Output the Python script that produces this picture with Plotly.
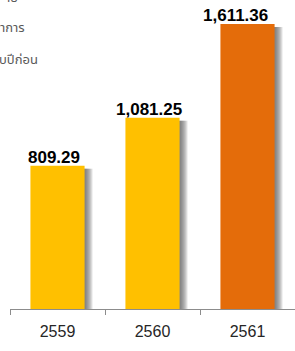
import plotly.graph_objects as go

years = ["2559", "2560", "2561"]
values = [809.29, 1081.25, 1611.36]
value_labels = ["809.29", "1,081.25", "1,611.36"]
bar_colors = ["#FFC000", "#FFC000", "#E46C0A"]
note_lines = ["าย", "าการ", "บปีก่อน"]

# style constants
W, H = 295, 351
ML, MR, MT, MB = 10, 0, 10, 42
YMAX = 1690
BAR_W = 0.57
PX = 1.0 / 95.0            # one pixel in category units
PX_Y = YMAX / (H - MT - MB)  # one pixel in value units
label_xshift = [-4, -4, -12]
note_pos = [(0.035, 1.04), (0.06, 0.94), (0.105, 0.833)]

fig = go.Figure()

# soft shadow: layered translucent grey bars shifted right / down
for k in range(1, 9):
    fig.add_trace(go.Bar(
        x=years,
        y=[v - 3 * PX_Y for v in values],
        width=BAR_W,
        offset=-BAR_W / 2 + k * PX,
        marker=dict(color="rgba(90,90,90,0.15)", line=dict(width=0)),
        hoverinfo="skip",
        showlegend=False,
    ))

fig.add_trace(go.Bar(
    x=years,
    y=values,
    width=BAR_W,
    offset=-BAR_W / 2,
    marker=dict(color=bar_colors, line=dict(width=0)),
    showlegend=False,
))

for i, (v, lab) in enumerate(zip(values, value_labels)):
    fig.add_annotation(
        x=i, y=v, text=lab, showarrow=False,
        xanchor="center", yanchor="bottom", yshift=-3, xshift=label_xshift[i],
        font=dict(family="Tahoma, 'Liberation Sans', Arial, sans-serif",
                  size=17, color="#000000", weight="bold"),
    )

for txt, (px_, py_) in zip(note_lines, note_pos):
    fig.add_annotation(
        xref="paper", yref="paper", x=px_, y=py_, text=txt, showarrow=False,
        xanchor="right", yanchor="middle",
        font=dict(family="Tahoma, 'Noto Sans Thai', 'Noto Sans', sans-serif",
                  size=13, color="#595959"),
    )

fig.update_layout(
    width=W, height=H,
    margin=dict(l=ML, r=MR, t=MT, b=MB),
    barmode="overlay",
    plot_bgcolor="white", paper_bgcolor="white",
    xaxis=dict(
        type="category",
        showline=True, linecolor="#8c8c8c", linewidth=1,
        ticks="outside", tickson="boundaries", ticklen=5,
        tickcolor="#8c8c8c", tickwidth=1,
        showgrid=False, zeroline=False,
        ticklabelstandoff=8,
        tickfont=dict(family="Tahoma, 'Liberation Sans', Arial, sans-serif",
                      size=16, color="#262626"),
        range=[-0.5, 2.5],
    ),
    yaxis=dict(
        range=[0, YMAX], visible=False, showgrid=False, zeroline=False,
    ),
)

fig.write_html(
    "out.html",
    config={"displayModeBar": False},
    post_script="document.body.style.margin='0';document.body.style.overflow='hidden';",
)
